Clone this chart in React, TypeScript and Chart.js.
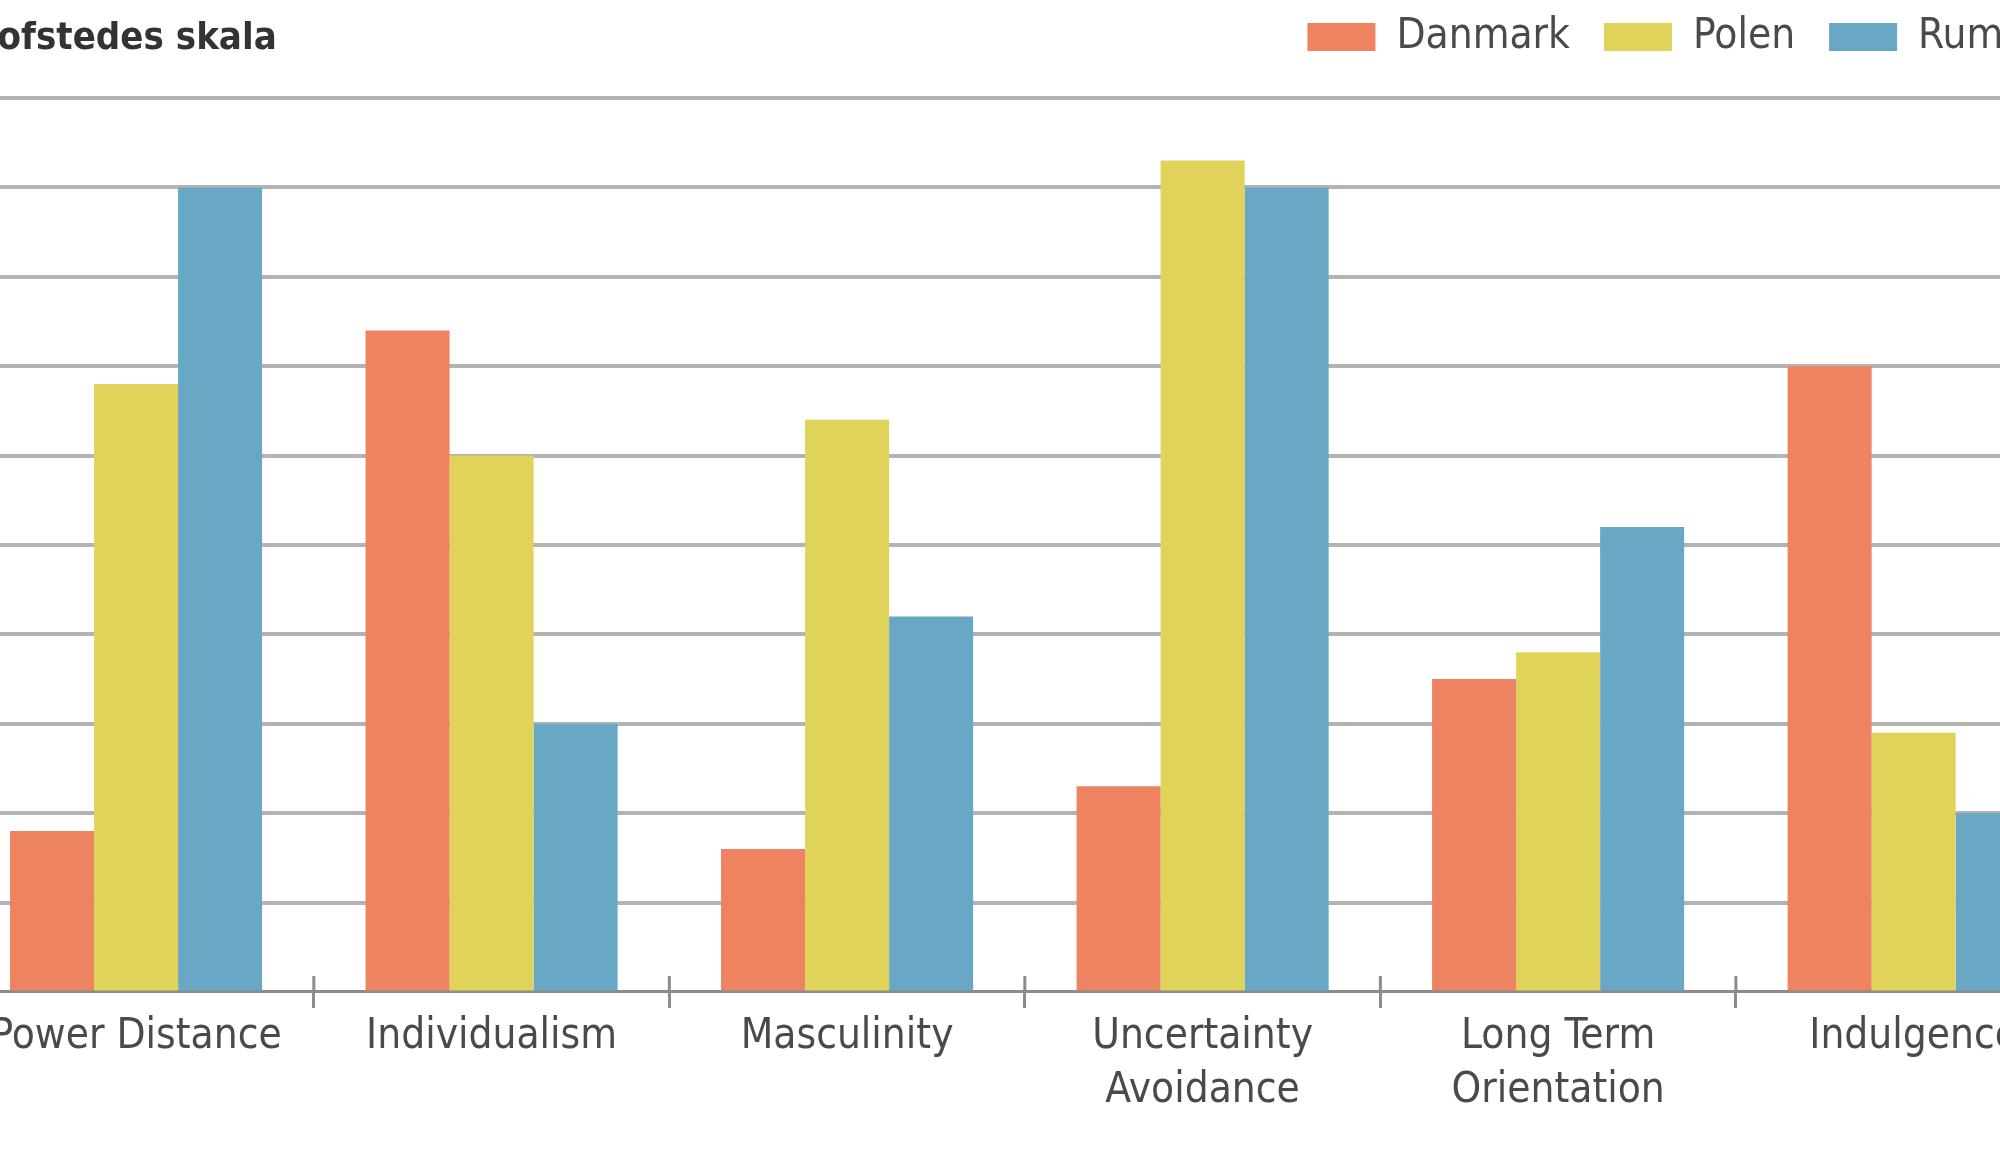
import React, { useEffect, useRef } from "react";
import { Chart, registerables } from "chart.js";

Chart.register(...registerables);

const titleText = "Hofstedes skala";
const categories: (string | string[])[] = [
  "Power Distance",
  "Individualism",
  "Masculinity",
  ["Uncertainty", "Avoidance"],
  ["Long Term", "Orientation"],
  "Indulgence",
];
const seriesNames = ["Danmark", "Polen", "Rumænien"];
const danmark = [18, 74, 16, 23, 35, 70];
const polen = [68, 60, 64, 93, 38, 29];
const rumaenien = [90, 30, 42, 90, 52, 20];
const yTicks = { min: 0, max: 100, step: 10 };

const COLORS = ["#ED8361", "#E0D35A", "#68A8C5"];
const FONT = '"DejaVu Sans Condensed", "Liberation Sans Narrow", "Arial Narrow", sans-serif';
const TEXT = "#4a4a4a";

const CANVAS_LEFT = -100;
const CANVAS_W = 2256;
const CANVAS_H = 1165;
const PLOT_RIGHT = 2191.4; // in canvas px

export default function App() {
  const ref = useRef<HTMLCanvasElement | null>(null);

  useEffect(() => {
    const canvas = ref.current;
    if (!canvas) return;

    const legendSpacer = {
      id: "legendSpacer",
      beforeInit(chart: any) {
        const legend = chart.legend;
        if (!legend || legend._patched) return;
        const orig = legend.fit;
        legend.fit = function () {
          orig.call(this);
          this.height += 30;
        };
        legend._patched = true;
      },
    };

    const upperTicks = {
      id: "upperTicks",
      afterDraw(chart: any) {
        const xs = chart.scales.x;
        const area = chart.chartArea;
        const ctx = chart.ctx;
        ctx.save();
        ctx.strokeStyle = "#8c8c8c";
        ctx.lineWidth = 3;
        for (let i = 1; i < categories.length; i++) {
          const px = (xs.getPixelForValue(i - 1) + xs.getPixelForValue(i)) / 2;
          ctx.beginPath();
          ctx.moveTo(px, area.bottom - 16);
          ctx.lineTo(px, area.bottom);
          ctx.stroke();
        }
        ctx.restore();
      },
    };

    const data = [danmark, polen, rumaenien];
    const chart = new Chart(canvas, {
      type: "bar",
      data: {
        labels: categories,
        datasets: seriesNames.map((name, i) => ({
          label: name,
          data: data[i],
          backgroundColor: COLORS[i],
          borderColor: COLORS[i],
          borderWidth: 0,
          categoryPercentage: 0.709,
          barPercentage: 1.0,
        })),
      },
      options: {
        responsive: false,
        animation: false,
        devicePixelRatio: 1,
        layout: { padding: { left: 58.3, right: 0, top: -18, bottom: 45 } },
        plugins: {
          title: { display: false },
          tooltip: { enabled: false },
          legend: {
            display: true,
            position: "top",
            align: "end",
            labels: {
              boxWidth: 68,
              boxHeight: 28,
              padding: 34,
              color: TEXT,
              font: { family: FONT, size: 42 },
            },
          },
        },
        scales: {
          x: {
            offset: true,
            grid: {
              offset: true,
              drawOnChartArea: false,
              drawTicks: true,
              tickLength: 16,
              color: "#8c8c8c",
              lineWidth: 3,
            },
            border: { display: true, color: "#8c8c8c", width: 3 },
            ticks: {
              color: TEXT,
              font: { family: FONT, size: 42, lineHeight: 1.286 },
              padding: 2,
              maxRotation: 0,
              minRotation: 0,
              autoSkip: false,
            },
          },
          y: {
            position: "right",
            min: yTicks.min,
            max: yTicks.max,
            afterFit: (s: any) => {
              s.width = CANVAS_W - PLOT_RIGHT;
            },
            border: { display: false },
            grid: {
              drawTicks: false,
              color: (c: any) => (c.tick && c.tick.value === 0 ? "#8c8c8c" : "#b3b3b3"),
              lineWidth: (c: any) => (c.tick && c.tick.value === 0 ? 3 : 4),
            },
            ticks: { display: false, stepSize: yTicks.step },
          },
        },
      },
      plugins: [legendSpacer, upperTicks],
    } as any);

    return () => chart.destroy();
  }, []);

  return (
    <div
      style={{
        position: "fixed",
        left: 0,
        top: 0,
        width: 2000,
        height: 1165,
        overflow: "hidden",
        background: "#ffffff",
      }}
    >
      <canvas
        ref={ref}
        width={CANVAS_W}
        height={CANVAS_H}
        style={{ position: "absolute", left: CANVAS_LEFT, top: 0, width: CANVAS_W, height: CANVAS_H }}
      />
      <div
        style={{
          position: "absolute",
          left: -31,
          top: 8,
          fontFamily: FONT,
          fontWeight: "bold",
          fontSize: 38,
          lineHeight: "56px",
          color: "#333333",
          whiteSpace: "nowrap",
        }}
      >
        {titleText}
      </div>
    </div>
  );
}
